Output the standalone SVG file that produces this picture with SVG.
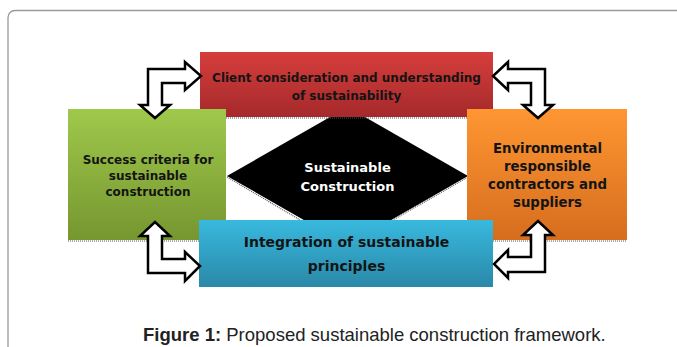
<svg xmlns="http://www.w3.org/2000/svg" width="677" height="347" viewBox="0 0 677 347">
<defs>
<linearGradient id="gRed" x1="0" y1="0" x2="0" y2="1"><stop offset="0" stop-color="#d53e3b"/><stop offset="1" stop-color="#a5292b"/></linearGradient>
<linearGradient id="gGreen" x1="0" y1="0" x2="0" y2="1"><stop offset="0" stop-color="#9fc94b"/><stop offset="1" stop-color="#769630"/></linearGradient>
<linearGradient id="gOrange" x1="0" y1="0" x2="0" y2="1"><stop offset="0" stop-color="#ff9632"/><stop offset="1" stop-color="#d56d1e"/></linearGradient>
<linearGradient id="gBlue" x1="0" y1="0" x2="0" y2="1"><stop offset="0" stop-color="#38b9de"/><stop offset="1" stop-color="#2a88a8"/></linearGradient>
</defs>
<style>
.lbl{font-family:"DejaVu Sans",Verdana,sans-serif;font-weight:bold;fill:#141414;text-anchor:middle}
.wlbl{font-family:"DejaVu Sans",Verdana,sans-serif;font-weight:bold;fill:#ffffff;text-anchor:middle}
.arr{fill:#ffffff;stroke:#000000;stroke-width:2.5;stroke-linejoin:miter}
.dots{stroke:#555555;stroke-width:1.2;stroke-dasharray:1 1;fill:none}
.cap{font-family:"Liberation Sans",Arial,sans-serif;font-size:18.5px;fill:#222222}
</style>
<rect x="8" y="10.5" width="720" height="400" rx="7" fill="#ffffff" stroke="#9a9a9a" stroke-width="1.3"/>

<g id="center">
<polygon points="227,176 347.5,107 468,176 347.5,245" fill="#000000"/>
<polyline class="dots" points="227,177 300,220"/>
<polyline class="dots" points="468,177 393,220"/>
<text class="wlbl" font-size="13" x="347.5" y="172">Sustainable</text>
<text class="wlbl" font-size="13" x="347.5" y="191">Construction</text>
</g>

<g id="client">
<rect x="200" y="52" width="293" height="65" fill="url(#gRed)"/>
<line class="dots" x1="226" y1="118" x2="467" y2="118"/>
<text class="lbl" font-size="12" x="346.5" y="82">Client consideration and understanding</text>
<text class="lbl" font-size="12" x="346.5" y="100">of sustainability</text>
</g>

<g id="success">
<rect x="68" y="109" width="158" height="131" fill="url(#gGreen)"/>
<line class="dots" x1="68" y1="241" x2="199" y2="241"/>
<text class="lbl" font-size="12" x="148" y="164">Success criteria for</text>
<text class="lbl" font-size="12" x="148" y="180">sustainable</text>
<text class="lbl" font-size="12" x="148" y="196">construction</text>
</g>

<g id="environmental">
<rect x="467" y="109" width="160" height="131" fill="url(#gOrange)"/>
<line class="dots" x1="493" y1="241" x2="627" y2="241"/>
<text class="lbl" font-size="13.3" x="547.5" y="153">Environmental</text>
<text class="lbl" font-size="13.3" x="547.5" y="171">responsible</text>
<text class="lbl" font-size="13.3" x="547.5" y="189">contractors and</text>
<text class="lbl" font-size="13.3" x="547.5" y="207">suppliers</text>
</g>

<g id="integration">
<rect x="199" y="220" width="294" height="67" fill="url(#gBlue)"/>
<text class="lbl" font-size="14" x="346.5" y="247">Integration of sustainable</text>
<text class="lbl" font-size="14" x="346.5" y="271">principles</text>
</g>

<g id="connectors">
<polygon class="arr" points="148,69 185,69 185,62 201,76 185,90 185,83 162,83 162,105 170,105 155,118 140,105 148,105"/>
<polygon class="arr" points="545,69 508,69 508,62 493,76 508,90 508,83 531,83 531,105 523,105 538,118 553,105 545,105"/>
<polygon class="arr" points="148,236 140,236 155,222 170,236 162,236 162,259 185,259 185,252 200,266 185,281 185,273 148,273"/>
<polygon class="arr" points="545,235 553,235 538,221 523,235 531,235 531,257 508,257 508,250 494,264 508,278 508,272 545,272"/>
</g>

<text class="cap" x="143" y="341"><tspan font-weight="bold">Figure 1:</tspan> Proposed sustainable construction framework.</text>
</svg>
